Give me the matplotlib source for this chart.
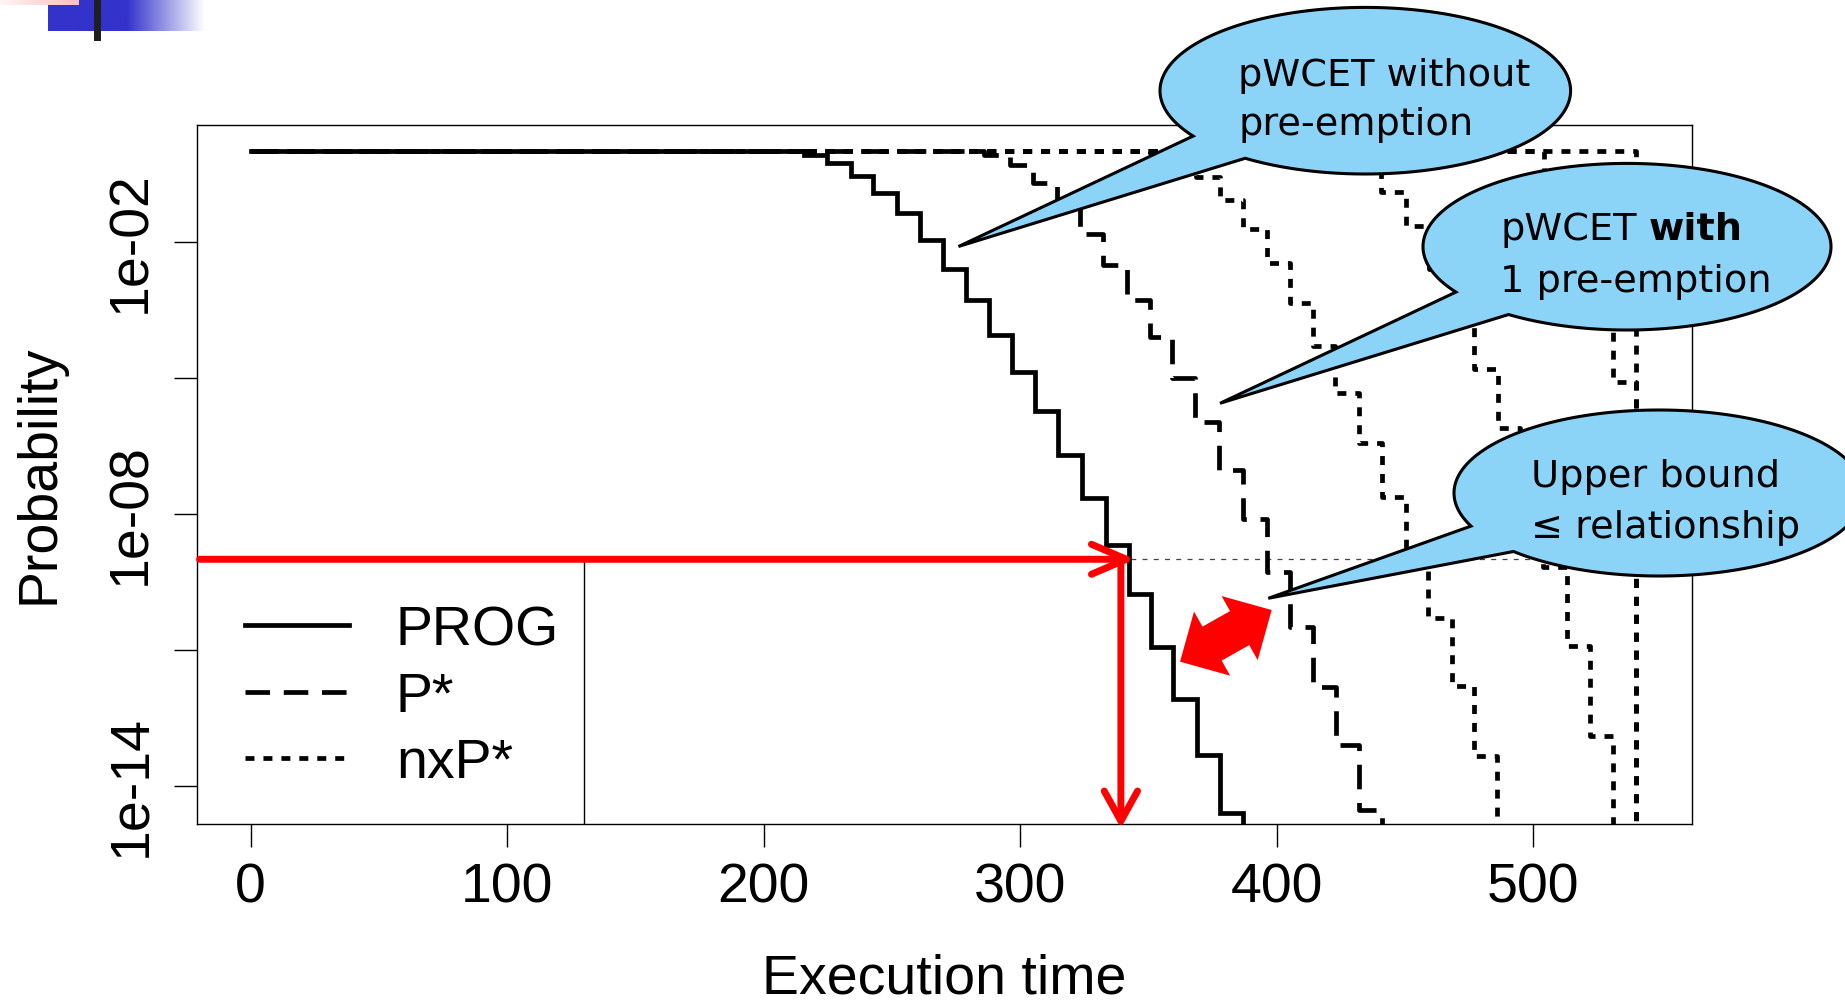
"""
plot.py
-------
pWCET exceedance curves (PROG, P*, nxP*) on a log probability axis,
with the slide call-outs and red read-off arrows.
"""

import numpy as np
import matplotlib
matplotlib.use("Agg")  # no display
import matplotlib.pyplot as plt
from matplotlib.patches import Polygon, Rectangle
from matplotlib.lines import Line2D
from matplotlib.ticker import NullLocator


# ── Data ───────────────────────────────────────────────────────────────────────
# step positions (execution time) and log10 of the exceedance probability
prog_x = [0, 215.5, 224.6, 234.0, 242.6, 251.9, 261.0, 270.0, 279.0, 287.8, 296.8,
          305.8, 314.8, 324.0, 333.5, 342.2, 350.9, 359.7, 368.8, 377.9, 386.9]
prog_log10p = [0, -0.08, -0.26, -0.54, -0.91, -1.36, -1.96, -2.60, -3.28, -4.05, -4.87,
               -5.74, -6.70, -7.65, -8.68, -9.77, -10.93, -12.09, -13.32, -14.59, -18]

pstar_x = [0, 285.9, 296.1, 305.0, 314.4, 323.3, 332.3, 341.7, 350.6, 359.3, 368.2,
           377.5, 386.9, 396.2, 405.2, 414.1, 423.1, 432.1, 441.1]
pstar_log10p = [0, -0.08, -0.30, -0.69, -1.16, -1.83, -2.51, -3.28, -4.09, -5.01, -5.98,
                -7.03, -8.12, -9.27, -10.49, -11.81, -13.10, -14.53, -18]

nxp_a_x = [0, 350.6, 359.6, 368.6, 377.7, 386.8, 396.1, 405.0, 414.1, 422.8, 432.2,
           441.0, 450.2, 458.8, 468.3, 477.0, 485.8]
nxp_a_log10p = [0, -0.04, -0.18, -0.56, -1.07, -1.72, -2.47, -3.34, -4.29, -5.34, -6.44,
                -7.62, -8.90, -10.30, -11.79, -13.34, -18]

nxp_b_x = [0, 422.8, 432.2, 440.4, 450.2, 459.2, 468.0, 477.0, 486.1, 494.9, 503.9,
           513.1, 521.9, 530.9]
nxp_b_log10p = [0, -0.06, -0.30, -0.89, -1.65, -2.60, -3.65, -4.81, -6.11, -7.60, -9.16,
                -10.91, -12.90, -18]

nxp_c_x = [0, 504.0, 513.1, 521.9, 531.0, 540.0]
nxp_c_log10p = [0, -0.80, -2.00, -3.20, -5.08, -18]

nxp_d_x = [0, 540.0]
nxp_d_log10p = [0, -18]

x_ticks = [0, 100, 200, 300, 400, 500]
y_ticks = [1e-2, 1e-5, 1e-8, 1e-11, 1e-14]
y_tick_labels = ["1e-02", "", "1e-08", "", "1e-14"]
legend_labels = ["PROG", "P*", "nxP*"]

exceed_prob = 1e-9
pwcet_at_prob = 339.2   # execution time where the red arrow drops

callout_texts = [("pWCET without", "pre-emption"),
                 ("pWCET ", "with", "1 pre-emption"),
                 ("Upper bound", "\u2264 relationship")]


# ── Layout (pixels of the 1845 x 1002 picture) ─────────────────────────────────
W, H = 1845, 1002
AX_L, AX_R, AX_T, AX_B = 197, 1692, 125, 824
LW = 3.4
STYLES = {
    "PROG": dict(linestyle="-", solid_joinstyle="miter"),
    "P*": dict(linestyle=(0, (5.2, 2.9))),
    "nxP*": dict(linestyle=(0, (1.9, 1.9))),
}
BUBBLE = "#8BD4F8"
CALLOUT_FS = 27.5

plt.rcParams["font.family"] = ["Liberation Sans", "DejaVu Sans"]

fig = plt.figure(figsize=(W / 100, H / 100), dpi=100)
fig.patch.set_facecolor("white")
ax = fig.add_axes([AX_L / W, 1 - AX_B / H, (AX_R - AX_L) / W, (AX_B - AX_T) / H])


def fx(px):
    return (px - AX_L) / (AX_R - AX_L)


def fy(py):
    return (AX_B - py) / (AX_B - AX_T)


# ── Curves ─────────────────────────────────────────────────────────────────────
def draw_step(x, log10p, style):
    ax.step(x, 10.0 ** np.asarray(log10p), where="post", color="black",
            lw=LW, zorder=3, **STYLES[style])


draw_step(prog_x, prog_log10p, "PROG")
draw_step(pstar_x, pstar_log10p, "P*")
for cx, cy in [(nxp_a_x, nxp_a_log10p), (nxp_b_x, nxp_b_log10p),
               (nxp_c_x, nxp_c_log10p), (nxp_d_x, nxp_d_log10p)]:
    draw_step(cx, cy, "nxP*")

ax.axhline(exceed_prob, color="#444444", lw=0.9, ls=(0, (4, 5)), zorder=2)

ax.set_yscale("log")
ax.set_xlim(-20.9, 561.8)
ax.set_ylim(10 ** -14.84, 10 ** 0.58)
ax.set_xticks(x_ticks)
ax.set_xticklabels([str(t) for t in x_ticks])
ax.set_yticks(y_ticks)
ax.set_yticklabels(y_tick_labels)
ax.yaxis.set_minor_locator(NullLocator())
for lab in ax.get_yticklabels():
    lab.set_rotation(90)
    lab.set_va("center")
ax.tick_params(axis="both", labelsize=40, length=16.5, width=1.0, direction="out")
ax.tick_params(axis="x", pad=11.5)
ax.tick_params(axis="y", pad=12)
for sp in ax.spines.values():
    sp.set_linewidth(1.0)

ax.set_xlabel("Execution time", fontsize=40)
ax.xaxis.label.set_va("baseline")
ax.xaxis.set_label_coords(0.5, fy(993))
ax.set_ylabel("Probability", fontsize=40)
ax.yaxis.label.set_va("baseline")
ax.yaxis.set_label_coords(fx(53), 0.5)

# ── Legend (R style box, bottom left) ─────────────────────────────────────────
ax.add_patch(Rectangle((0, 0), fx(584), fy(560), transform=ax.transAxes,
                       facecolor="white", edgecolor="black", lw=1.0, zorder=5))
for label, row_py in zip(legend_labels, [625, 692, 758]):
    ax.add_line(Line2D([fx(245), fx(349)], [fy(row_py)] * 2, transform=ax.transAxes,
                       color="black", lw=LW, zorder=6, **STYLES[label]))
    ax.text(fx(396), fy(row_py + 20), label, transform=ax.transAxes, fontsize=40,
            va="baseline", ha="left", zorder=6)

# ── Red read-off arrows ────────────────────────────────────────────────────────
ax.annotate("", xy=(pwcet_at_prob + 5.6, exceed_prob),
            xytext=(ax.get_xlim()[0] + 1.0, exceed_prob),
            arrowprops=dict(arrowstyle="->,head_length=1.26,head_width=0.54",
                            color="red", lw=5, shrinkA=0, shrinkB=0,
                            capstyle="round", joinstyle="round", mutation_scale=20),
            annotation_clip=False, zorder=8)
ax.annotate("", xy=(pwcet_at_prob, -0.006), xycoords=("data", "axes fraction"),
            xytext=(pwcet_at_prob, exceed_prob), textcoords="data",
            arrowprops=dict(arrowstyle="->,head_length=1.08,head_width=0.6",
                            color="red", lw=5, shrinkA=0, shrinkB=0,
                            capstyle="round", joinstyle="round", mutation_scale=20),
            annotation_clip=False, zorder=8)

# ── Overlay in picture pixels: call-outs, block arrow, slide corner ───────────
ov = fig.add_axes([0, 0, 1, 1])
ov.set_zorder(10)
ov.axis("off")


def callout(center, rx, ry, tip, ang_a, ang_b):
    cx, cy = center
    t = np.radians(np.linspace(ang_a, ang_b + 360, 300))
    arc = np.column_stack([cx + rx * np.cos(t), cy + ry * np.sin(t)])
    verts = np.vstack([[tip], arc, [tip]])
    ov.add_patch(Polygon(verts, closed=True, facecolor=BUBBLE, edgecolor="black",
                         lw=2.2, joinstyle="miter", zorder=2))


callout((1365.3, 90.7), 205.3, 83.3, (958.5, 246.5), 147.0, 125.8)
callout((1627.0, 246.7), 204.0, 83.3, (1220.0, 403.3), 147.0, 125.5)
callout((1659.0, 493.0), 205.0, 83.0, (1268.3, 598.3), 156.5, 135.2)

txt = dict(fontsize=CALLOUT_FS, family=["DejaVu Sans"], va="baseline", ha="left", zorder=3)
ov.text(1238, 86, callout_texts[0][0], **txt)
ov.text(1238, 135, callout_texts[0][1], **txt)
t_pw = ov.text(1500, 240, callout_texts[1][0].strip(), **txt)
ov.annotate(callout_texts[1][1], xy=(1, 0), xycoords=t_pw, xytext=(9, 0),
            textcoords="offset points", fontsize=CALLOUT_FS, family=["DejaVu Sans"],
            fontweight="bold", va="bottom", ha="left", zorder=3)
ov.text(1500, 291.7, callout_texts[1][2], **txt)
ov.text(1531, 487, callout_texts[2][0], **txt)
ov.text(1531, 538, callout_texts[2][1], **txt)

# red double-headed block arrow
c = np.array([1225.85, 635.85])
u = np.array([0.871, -0.491])
n = np.array([0.491, 0.871])
L, hl, hhw, shw = 52.6, 36.8, 36.8, 19.5
local = [(-L, 0), (-L + hl, -hhw), (-L + hl, -shw), (L - hl, -shw), (L - hl, -hhw),
         (L, 0), (L - hl, hhw), (L - hl, shw), (-L + hl, shw), (-L + hl, hhw)]
ov.add_patch(Polygon([c + s * u + t * n for s, t in local], closed=True,
                     facecolor="red", edgecolor="none", zorder=2))

# slide corner decoration
gx = np.linspace(48, 205, 256)
a = np.clip((205 - gx) / (205 - 127), 0, 1)[None, :, None]
blue = np.array([0x33, 0x33, 0xCC]) / 255.0
ov.imshow(a * blue + (1 - a) * 1.0, extent=(48, 205, 31, 0), aspect="auto",
          interpolation="bilinear", zorder=1)
px = np.linspace(0, 1, 128)[None, :, None]
ov.imshow((1 - px) * np.array([1.0, 0.96, 0.96]) + px * np.array([1.0, 0.75, 0.75]),
          extent=(0, 79, 5, 0), aspect="auto", interpolation="bilinear", zorder=1)
ov.add_patch(Rectangle((94, 0), 7, 41, facecolor="#1F1F1F", edgecolor="none", zorder=2))

ov.set_xlim(0, W)
ov.set_ylim(H, 0)

fig.savefig("out.png", dpi=100)
